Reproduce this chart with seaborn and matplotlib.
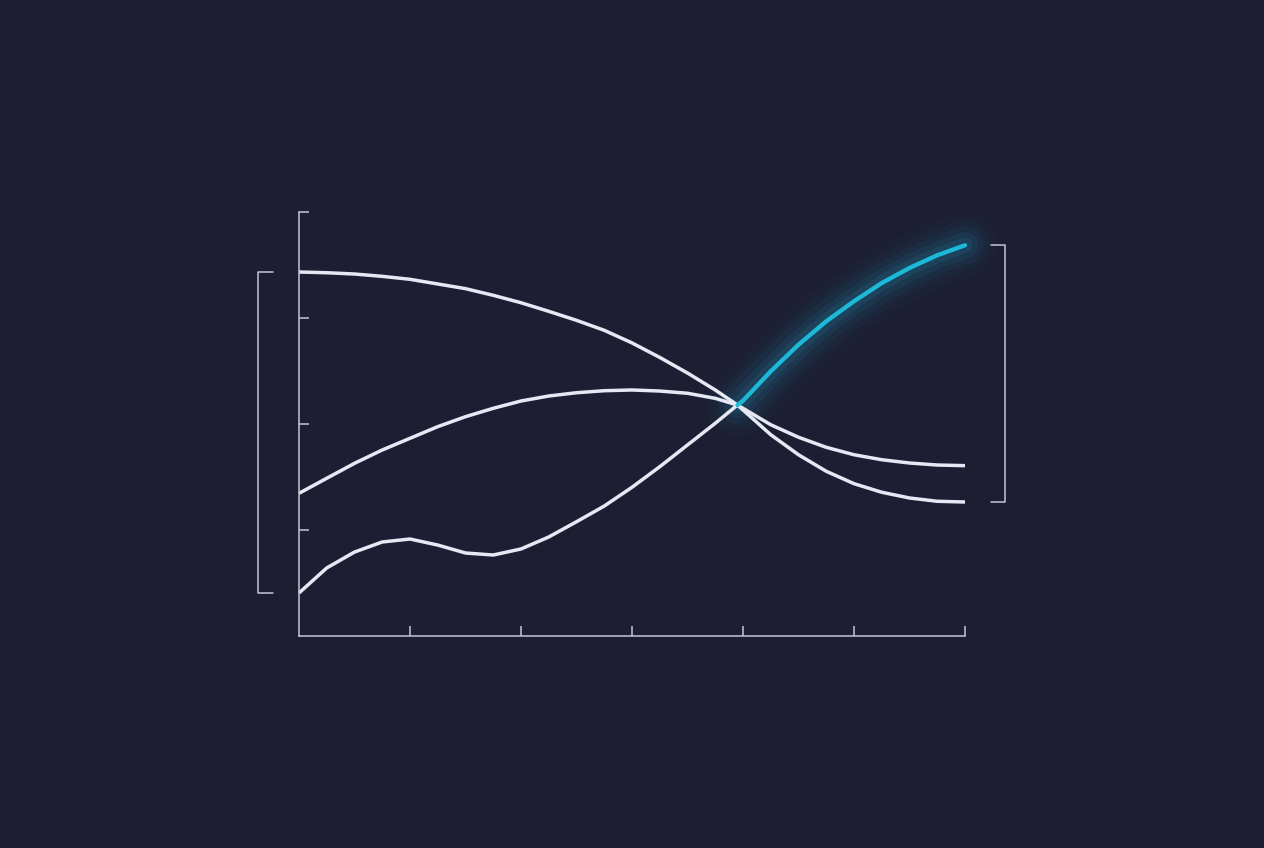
import numpy as np
import pandas as pd
import matplotlib
matplotlib.use('Agg')
import matplotlib.pyplot as plt
import seaborn as sns

# valores (eixo x 0..6, eixo y 0..4)
x_a = [0, 0.25, 0.5, 0.75, 1, 1.25, 1.5, 1.75, 2, 2.25, 2.5, 2.75, 3, 3.25, 3.5, 3.75, 3.95,
       4.25, 4.5, 4.75, 5, 5.25, 5.5, 5.75, 6]
serie_a = [3.434, 3.427, 3.415, 3.393, 3.365, 3.321, 3.277, 3.214, 3.144, 3.063, 2.978, 2.884,
           2.765, 2.628, 2.481, 2.321, 2.179, 1.899, 1.710, 1.554, 1.437, 1.356, 1.302, 1.271,
           1.264]

x_b = x_a
serie_b = [1.346, 1.488, 1.629, 1.755, 1.865, 1.975, 2.069, 2.148, 2.217, 2.264, 2.295, 2.314,
           2.321, 2.311, 2.290, 2.242, 2.179, 1.993, 1.875, 1.780, 1.710, 1.663, 1.632, 1.613,
           1.607]

x_c = [0, 0.25, 0.5, 0.75, 1, 1.25, 1.5, 1.75, 2, 2.25, 2.5, 2.75, 3, 3.25, 3.5, 3.75, 3.95]
serie_c = [0.406, 0.642, 0.792, 0.887, 0.915, 0.858, 0.783, 0.764, 0.821, 0.934, 1.078, 1.226,
           1.403, 1.597, 1.802, 2.007, 2.179]

# trecho destacado (continuação da serie c)
x_dest = [3.95, 4, 4.25, 4.5, 4.75, 5, 5.25, 5.5, 5.75, 6]
serie_dest = [2.179, 2.220, 2.497, 2.748, 2.969, 3.158, 3.330, 3.472, 3.592, 3.686]

fundo = '#1d1e33'
branco = '#e6e8f4'
cinza = '#c4c7d6'
ciano = '#1cb9d8'

sns.set_style('dark')
plt.rcParams['font.family'] = ['DejaVu Sans']

fig = plt.figure(figsize=(12.64, 8.48), dpi=100)
fig.patch.set_facecolor(fundo)
ax = fig.add_axes([299 / 1264, 212 / 848, 666 / 1264, 424 / 848])
ax.set_facecolor(fundo)

# brilho do trecho destacado
for lw, a in [(46, 0.025), (36, 0.035), (27, 0.05), (19, 0.07), (11, 0.10)]:
    ax.plot(x_dest, serie_dest, color=ciano, lw=lw, alpha=a, clip_on=False,
            solid_capstyle='round', solid_joinstyle='round')

for xs, ys in [(x_a, serie_a), (x_b, serie_b), (x_c, serie_c)]:
    df = pd.DataFrame({'x': xs, 'y': ys})
    sns.lineplot(data=df, x='x', y='y', ax=ax, color=branco, lw=2.5, clip_on=False,
                 sort=False, solid_joinstyle='round', solid_capstyle='butt')

df_d = pd.DataFrame({'x': x_dest, 'y': serie_dest})
sns.lineplot(data=df_d, x='x', y='y', ax=ax, color=ciano, lw=3.1, clip_on=False,
             sort=False, solid_joinstyle='round', solid_capstyle='round')

ax.set_xlim(0, 6)
ax.set_ylim(0, 4)
ax.set_xticks([1, 2, 3, 4, 5, 6])
ax.set_yticks([1, 2, 3, 4])
ax.set_xticklabels([])
ax.set_yticklabels([])
ax.set_xlabel('')
ax.set_ylabel('')
ax.tick_params(direction='in', length=7, width=1.1, color=cinza,
               bottom=True, left=True)
ax.grid(False)
for lado in ['top', 'right']:
    ax.spines[lado].set_visible(False)
for lado in ['left', 'bottom']:
    ax.spines[lado].set_visible(True)
    ax.spines[lado].set_color(cinza)
    ax.spines[lado].set_linewidth(1.1)

# colchetes com o intervalo dos valores iniciais e finais
inicios = [serie_a[0], serie_b[0], serie_c[0]]
fins = [serie_a[-1], serie_b[-1], serie_dest[-1]]
y0, y1 = min(inicios), max(inicios)
ax.plot([-0.235, -0.37, -0.37, -0.235], [y0, y0, y1, y1], color=cinza,
        lw=1.1, clip_on=False)
y0, y1 = min(fins), max(fins)
ax.plot([6.235, 6.36, 6.36, 6.235], [y0, y0, y1, y1], color=cinza,
        lw=1.1, clip_on=False)

fig.savefig('out.png', dpi=100, facecolor=fundo)
